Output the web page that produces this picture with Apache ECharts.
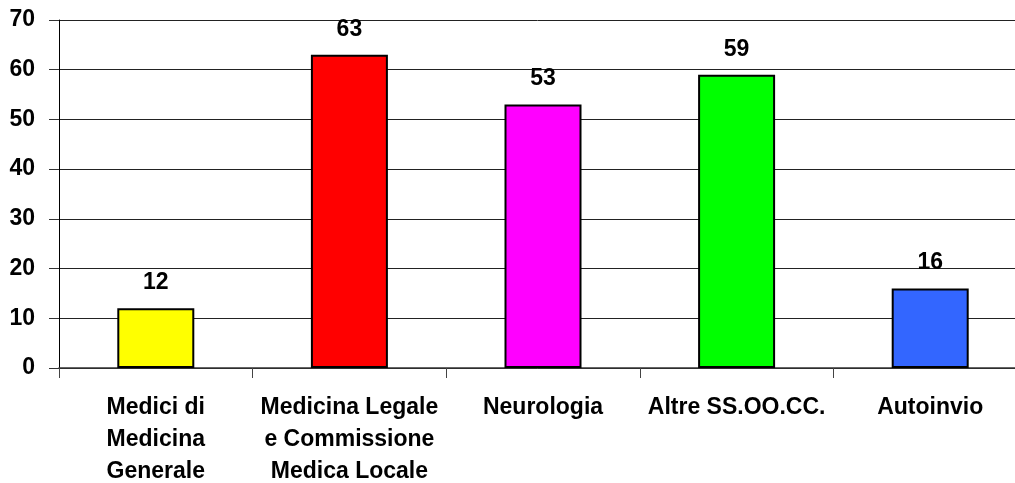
<!DOCTYPE html>
<html>
<head>
<meta charset="utf-8">
<script src="https://cdn.jsdelivr.net/npm/echarts@6/dist/echarts.min.js"></script>
<style>
html,body{margin:0;padding:0;background:#fff;}
#main{width:1015px;height:483px;}
</style>
</head>
<body>
<div id="main"></div>
<script>
const categories = [
  "Medici di\nMedicina\nGenerale",
  "Medicina Legale\ne Commissione\nMedica Locale",
  "Neurologia",
  "Altre SS.OO.CC.",
  "Autoinvio"
];
const values = [12, 63, 53, 59, 16];
const barColors = ["#FFFF00", "#FF0000", "#FF00FF", "#00FF00", "#3366FF"];
const yTicks = [0, 10, 20, 30, 40, 50, 60, 70];

const FONT = "Liberation Sans, Arial, sans-serif";
const chart = echarts.init(document.getElementById('main'), null, {renderer: 'canvas'});
chart.setOption({
  animation: false,
  backgroundColor: '#ffffff',
  grid: {left: 59, top: 20, width: 968, height: 348, containLabel: false, outerBoundsMode: 'none'},
  xAxis: {
    type: 'category',
    data: categories,
    boundaryGap: true,
    axisLine: {show: true, lineStyle: {color: '#333', width: 1.5}},
    axisTick: {show: true, length: 10, inside: false, lineStyle: {color: '#444', width: 1}},
    axisLabel: {
      interval: 0,
      margin: 24,
      color: '#000',
      fontFamily: FONT,
      fontWeight: 'bold',
      fontSize: 23,
      lineHeight: 32,
      align: 'center'
    },
    splitLine: {show: false}
  },
  yAxis: {
    type: 'value',
    min: yTicks[0],
    max: yTicks[yTicks.length - 1],
    interval: 10,
    axisLine: {show: true, lineStyle: {color: '#000', width: 1}},
    axisTick: {show: true, length: 10, inside: false, lineStyle: {color: '#333', width: 1}},
    axisLabel: {
      margin: 24,
      color: '#000',
      fontFamily: FONT,
      fontWeight: 'bold',
      fontSize: 23,
      formatter: v => yTicks.includes(v) ? String(v) : ''
    },
    splitLine: {show: true, lineStyle: {color: '#222', width: 1}}
  },
  series: [{
    type: 'bar',
    data: values.map((v, i) => ({value: v, itemStyle: {color: barColors[i]}})),
    barWidth: 77,
    itemStyle: {borderColor: '#000', borderWidth: 2},
    label: {
      show: true,
      position: 'top',
      distance: 14,
      color: '#000',
      fontFamily: FONT,
      fontWeight: 'bold',
      fontSize: 23
    }
  }]
});
</script>
</body>
</html>
